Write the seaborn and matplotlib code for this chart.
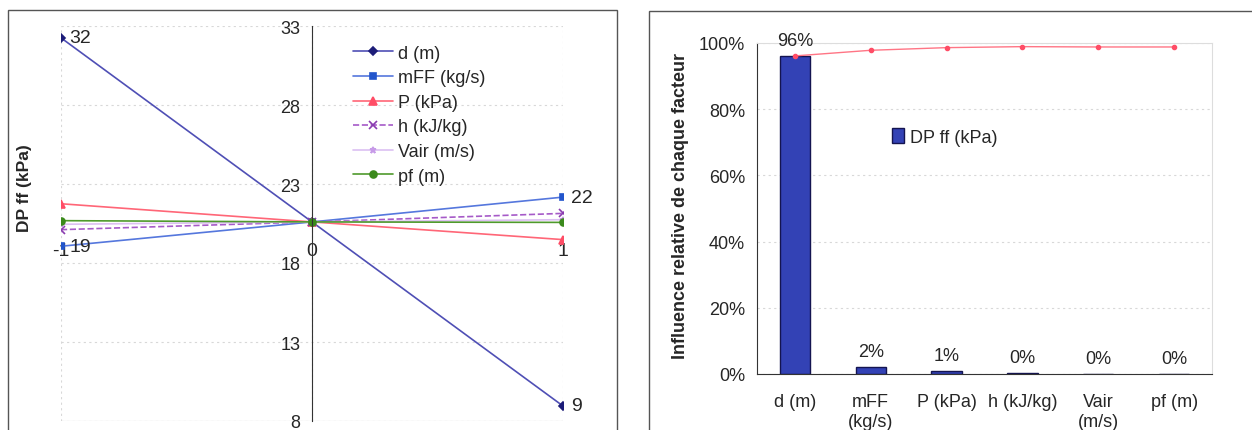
import numpy as np
import pandas as pd
import matplotlib
matplotlib.use("Agg")
import matplotlib.pyplot as plt
import matplotlib.patches as mpatches
from matplotlib.ticker import PercentFormatter, FixedLocator
import seaborn as sns

# ── left panel: sensitivity lines (x = -1, 0, 1) ──
x_levels = [-1, 0, 1]
d_m = [32.25, 20.6, 8.95]
mff = [19.06, 20.6, 22.17]
p_kpa = [21.75, 20.6, 19.48]
h_kjkg = [20.11, 20.6, 21.14]
vair = [20.45, 20.6, 20.74]
pf_m = [20.68, 20.6, 20.57]

series_names = ["d (m)", "mFF (kg/s)", "P (kPa)", "h (kJ/kg)", "Vair (m/s)", "pf (m)"]
series_vals = [d_m, mff, p_kpa, h_kjkg, vair, pf_m]

# ── right panel: relative influence ──
factors = ["d (m)", "mFF\n(kg/s)", "P (kPa)", "h (kJ/kg)", "Vair\n(m/s)", "pf (m)"]
influence = [0.96, 0.020, 0.008, 0.003, 0.0008, 0.0005]
influence_labels = ["96%", "2%", "1%", "0%", "0%", "0%"]
cumulative = [0.961, 0.978, 0.986, 0.989, 0.988, 0.988]

sns.set_style("white")
plt.rcParams["font.family"] = ["Liberation Sans", "DejaVu Sans"]

W, H = 1252, 431
fig = plt.figure(figsize=(W / 100, H / 100), dpi=100)

def px_rect(x0, y0, x1, y1):
    return [x0 / W, 1 - y1 / H, (x1 - x0) / W, (y1 - y0) / H]

# outer chart-area frames
for r in [(8, 11, 617, 440), (649, 12, 1262, 440)]:
    fig.patches.append(mpatches.Rectangle((r[0] / W, 1 - r[3] / H),
                                          (r[2] - r[0]) / W, (r[3] - r[1]) / H,
                                          transform=fig.transFigure, fill=False,
                                          edgecolor="#555555", linewidth=1.0))

# ---------------- left ----------------
ax1 = fig.add_axes(px_rect(61, 27, 563, 422))
styles = {
    "d (m)":      dict(color="#4f4fb5", mcolor="#1c1c78", marker="D", ms=4, ls="-"),
    "mFF (kg/s)": dict(color="#5577dd", mcolor="#2255cc", marker="s", ms=5, ls="-"),
    "P (kPa)":    dict(color="#ff6677", mcolor="#ff4d66", marker="^", ms=6, ls="-"),
    "h (kJ/kg)":  dict(color="#a65ac8", mcolor="#8a3cb0", marker="x", ms=6, ls="--"),
    "Vair (m/s)": dict(color="#dcc0f2", mcolor="#c79be8", marker="*", ms=5, ls="-"),
    "pf (m)":     dict(color="#4f9a2c", mcolor="#3b8a1c", marker="o", ms=5, ls="-"),
}
for name, vals in zip(series_names, series_vals):
    st = styles[name]
    df = pd.DataFrame({"x": x_levels, "y": vals})
    sns.lineplot(data=df, x="x", y="y", ax=ax1, color=st["color"], linewidth=1.2,
                 linestyle=st["ls"], marker=st["marker"], markersize=st["ms"],
                 markerfacecolor=st["mcolor"], markeredgecolor=st["mcolor"],
                 markeredgewidth=1.2, label=name)

# data labels
for xi, yi in [(0, d_m[0]), (2, d_m[2]), (0, mff[0]), (2, mff[2])]:
    ax1.annotate(f"{yi:.0f}", (x_levels[xi], yi), textcoords="offset points",
                 xytext=(6, 0), va="center", ha="left", fontsize=14)

ax1.set_xlim(-1, 1)
ax1.set_ylim(8, 33)
ax1.set_yticks(np.arange(8, 34, 5))
ax1.set_xticks(x_levels)
ax1.set_xticklabels(["-1", "0", "1"])
ax1.spines["left"].set_position(("data", 0))
ax1.spines["left"].set_color("#333333")
ax1.spines["bottom"].set_position(("data", 19.4))
ax1.spines["bottom"].set_visible(False)
ax1.spines["top"].set_visible(False)
ax1.spines["right"].set_visible(False)
ax1.tick_params(axis="y", direction="out", length=5, labelsize=13, color="#333333")
ax1.tick_params(axis="x", length=0, pad=1, labelsize=14)
ax1.grid(True, color="#d8d8d8", linestyle=(0, (2, 3)), linewidth=0.8)
ax1.set_xlabel("")
ax1.set_ylabel("DP ff (kPa)", fontsize=12.5, fontweight="bold")
ax1.yaxis.set_label_coords(-0.058, 0.592)
ax1.plot([-1, 1], [8, 8], color="#bbbbbb", linewidth=0.8)
ax1.legend(loc="upper left", bbox_to_anchor=(0.56, 0.98), frameon=False,
           fontsize=13, handlelength=2.2, labelspacing=0.42, handletextpad=0.3,
           borderaxespad=0.2)

# ---------------- right ----------------
ax2 = fig.add_axes(px_rect(757, 44, 1212, 375))
bdf = pd.DataFrame({"facteur": factors, "influence": influence})
sns.barplot(data=bdf, x="facteur", y="influence", ax=ax2, color="#3342b5",
            edgecolor="#141450", linewidth=1.0, width=0.4, saturation=1,
            label="DP ff (kPa)")
ax2.bar_label(ax2.containers[0], labels=influence_labels, padding=5, fontsize=13)
ax2.plot(np.arange(len(factors)), cumulative, color="#ff7585", linewidth=1.0,
         marker="o", markersize=3, markerfacecolor="#ff4d66", markeredgecolor="#ff4d66")

ax2.set_xlim(-0.5, len(factors) - 0.5)
ax2.set_ylim(0, 1.0)
ax2.set_yticks(np.arange(0, 1.01, 0.2))
ax2.yaxis.set_major_formatter(PercentFormatter(1.0, decimals=0))
ax2.xaxis.set_minor_locator(FixedLocator(np.arange(-0.5, len(factors), 1)))
ax2.tick_params(axis="x", which="major", length=0, pad=14, labelsize=13)
ax2.tick_params(axis="x", which="minor", length=5, direction="out", color="#333333")
ax2.tick_params(axis="y", length=5, direction="out", labelsize=13, color="#333333")
ax2.grid(axis="y", color="#d8d8d8", linestyle=(0, (2, 3)), linewidth=0.8)
for s in ["left", "bottom"]:
    ax2.spines[s].set_color("#333333")
for s in ["top", "right"]:
    ax2.spines[s].set_color("#dddddd")
    ax2.spines[s].set_linewidth(0.8)
ax2.set_xlabel("")
ax2.set_ylabel("Influence relative de chaque facteur", fontsize=13, fontweight="bold")
ax2.yaxis.set_label_coords(-0.15, 0.51)
ax2.legend(loc="center left", bbox_to_anchor=(0.26, 0.717), frameon=False,
           fontsize=13, handlelength=0.7, handleheight=0.9, handletextpad=0.3)

fig.savefig("out.png", dpi=100)
